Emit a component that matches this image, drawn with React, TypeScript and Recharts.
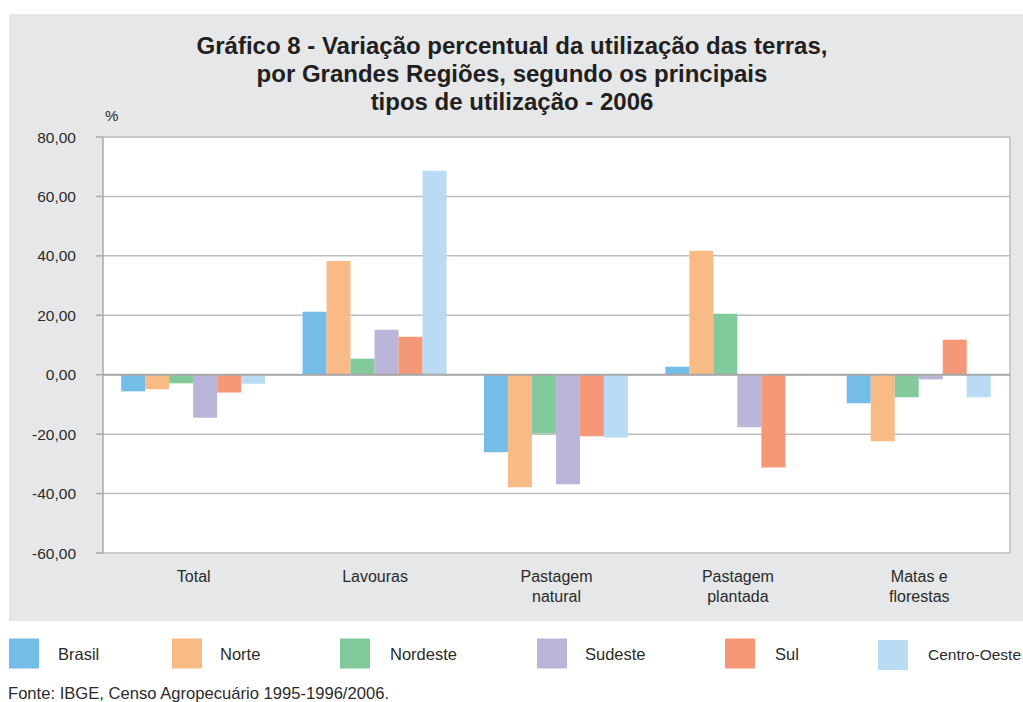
import React from "react";
import {
  BarChart,
  Bar,
  XAxis,
  YAxis,
  CartesianGrid,
  ReferenceLine,
} from "recharts";

const categories = [
  "Total",
  "Lavouras",
  "Pastagem natural",
  "Pastagem plantada",
  "Matas e florestas",
];
const categoryLines: string[][] = [
  ["Total"],
  ["Lavouras"],
  ["Pastagem", "natural"],
  ["Pastagem", "plantada"],
  ["Matas e", "florestas"],
];

const brasil = [-5.6, 21.2, -26.1, 2.7, -9.6];
const norte = [-4.9, 38.3, -37.9, 41.7, -22.4];
const nordeste = [-2.9, 5.4, -19.8, 20.5, -7.6];
const sudeste = [-14.5, 15.1, -36.9, -17.7, -1.6];
const sul = [-6.0, 12.8, -20.7, -31.2, 11.8];
const centroOeste = [-3.0, 68.6, -21.1, -0.4, -7.6];

const seriesNames = ["Brasil", "Norte", "Nordeste", "Sudeste", "Sul", "Centro-Oeste"];
const seriesKeys = ["brasil", "norte", "nordeste", "sudeste", "sul", "centroOeste"];
const seriesColors = ["#74bde8", "#f9bb85", "#82ca9c", "#bab6da", "#f59878", "#b9dbf3"];
const seriesValues = [brasil, norte, nordeste, sudeste, sul, centroOeste];

const yTicks = [-60, -40, -20, 0, 20, 40, 60, 80];

const titleLines = [
  "Gráfico 8 - Variação percentual da utilização das terras,",
  "por Grandes Regiões, segundo os principais",
  "tipos de utilização - 2006",
];
const unitLabel = "%";
const sourceText = "Fonte: IBGE, Censo Agropecuário 1995-1996/2006.";

const data = categories.map((c, i) => {
  const row: Record<string, any> = { name: c, lines: categoryLines[i] };
  seriesKeys.forEach((k, j) => {
    row[k] = seriesValues[j][i];
  });
  return row;
});

const FONT = "'Liberation Sans', Arial, Helvetica, sans-serif";
const TEXT = "#2b2b2b";

const legendSquareX = [9, 172, 340, 537, 725, 878];
const legendTextX = [58, 220, 390, 585, 775, 928];

const XTick = (props: any) => {
  const { x, y, index } = props;
  const lines = categoryLines[index] || [props.payload?.value];
  return (
    <text
      x={x}
      y={y}
      textAnchor="middle"
      fontFamily={FONT}
      fontSize={16}
      fill={TEXT}
    >
      {lines.map((l: string, i: number) => (
        <tspan key={i} x={x} dy={i === 0 ? 29 : 20}>
          {l}
        </tspan>
      ))}
    </text>
  );
};

export default function App() {
  return (
    <div
      style={{
        position: "fixed",
        left: 0,
        top: 0,
        width: 1023,
        height: 702,
        overflow: "hidden",
        background: "#fff",
      }}
    >
      <svg
        width={1023}
        height={702}
        style={{ position: "absolute", left: 0, top: 0 }}
      >
        <rect x={9} y={14} width={1014} height={607} fill="#e6e7e9" />
        {titleLines.map((t, i) => (
          <text
            key={i}
            x={512}
            y={54 + i * 28}
            textAnchor="middle"
            fontFamily={FONT}
            fontWeight="bold"
            fontSize={24}
            fill="#231f20"
          >
            {t}
          </text>
        ))}
        <text x={105} y={121} fontFamily={FONT} fontSize={15} fill={TEXT}>
          {unitLabel}
        </text>
        {seriesNames.map((n, i) => (
          <g key={n}>
            <rect
              x={legendSquareX[i]}
              y={i === 5 ? 640 : 638.5}
              width={30}
              height={30}
              fill={seriesColors[i]}
            />
            <text
              x={legendTextX[i]}
              y={659.5}
              fontFamily={FONT}
              fontSize={i === 5 ? 15.5 : 16.5}
              fill={TEXT}
            >
              {n}
            </text>
          </g>
        ))}
        <text x={8} y={699} fontFamily={FONT} fontSize={16.6} fill={TEXT}>
          {sourceText}
        </text>
      </svg>
      <div style={{ position: "absolute", left: 8, top: 108 }}>
        <BarChart
          width={1015}
          height={520}
          data={data}
          margin={{ top: 29, right: 13, bottom: 0, left: 0 }}
          barCategoryGap="10%"
          barGap={0}
        >
          <CartesianGrid
            fill="#ffffff"
            stroke="#bdbdbd"
            strokeWidth={1.5}
            vertical={true}
            verticalCoordinatesGenerator={(p: any) => [
              p.offset.left + p.offset.width,
            ]}
          />
          <XAxis
            dataKey="name"
            height={75}
            axisLine={false}
            tickLine={false}
            tickSize={0}
            tickMargin={0}
            interval={0}
            tick={<XTick />}
          />
          <YAxis
            width={95}
            domain={[-60, 80]}
            ticks={yTicks}
            allowDataOverflow
            axisLine={{ stroke: "#aaaaaa", strokeWidth: 1.5 }}
            tickLine={{ stroke: "#aaaaaa", strokeWidth: 1.5 }}
            tickSize={7}
            tickMargin={20}
            tick={{ fontFamily: FONT, fontSize: 15.5, fill: TEXT }}
            tickFormatter={(v: number) => v.toFixed(2).replace(".", ",")}
          />
          {seriesKeys.map((k, i) => (
            <Bar
              key={k}
              dataKey={k}
              name={seriesNames[i]}
              fill={seriesColors[i]}
              isAnimationActive={false}
            />
          ))}
          <ReferenceLine y={0} stroke="#a8a8a8" strokeWidth={2} />
        </BarChart>
      </div>
    </div>
  );
}
